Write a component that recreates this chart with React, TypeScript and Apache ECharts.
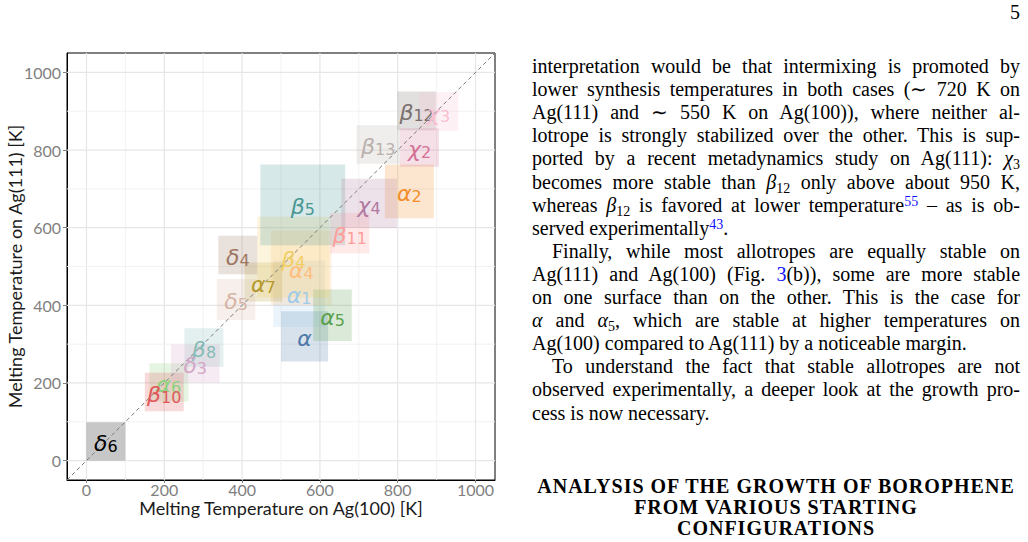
import React, { useEffect, useRef } from "react";
import * as echarts from "echarts";

// Allotrope labels (Greek letter + subscript)
const letters = ["α","α","α","α","α","α","α","β","β","β","β","β","β","β","χ","χ","χ","δ","δ","δ","δ"];
const subscripts = ["","1","2","4","5","6","7","4","5","8","10","11","12","13","2","3","4","3","4","5","6"];
// Melting temperature ranges [K]: Ag(100) on x, Ag(111) on y
const xLow  = [500,480,767,474,583,162,406,439,447,252,150,626,799,694,806,855,655,217,339,335,0];
const xHigh = [621,613,893,630,682,262,503,624,665,352,250,727,898,806,906,955,798,342,439,434,100];
const yLow  = [255,344,624,400,308,152,410,420,555,242,127,534,851,765,757,849,599,201,480,362,0];
const yHigh = [385,515,763,592,441,251,510,628,763,341,226,638,951,864,856,949,726,299,579,468,99];
const palette = ["#4E79A7","#A0CBE8","#F28E2B","#FFBE7D","#59A14F","#8CD17D","#B6992D","#F1CE63","#499894","#86BCB6","#E15759","#FF9D9A","#79706E","#BAB0AC","#D37295","#FABFD2","#B07AA1","#D4A6C8","#9D7660","#D7B5A6","#000000"];
const tickValues = [0, 200, 400, 600, 800, 1000];
const gridValues = [0, 100, 200, 300, 400, 500, 600, 700, 800, 900, 1000];
const axisMin = -50;
const axisMax = 1050;
const diagonal = [[axisMin, axisMin], [axisMax, axisMax]];

function rgba(hex: string, a: number) {
  const n = parseInt(hex.slice(1), 16);
  return `rgba(${(n >> 16) & 255},${(n >> 8) & 255},${n & 255},${a})`;
}

const tickFont = "Lato, 'Open Sans', sans-serif";

function buildOption(): any {
  const boxData = xLow.map((_, i) => [xLow[i], xHigh[i], yLow[i], yHigh[i]]);
  const labelData = xLow.map((_, i) => [(xLow[i] + xHigh[i]) / 2, (yLow[i] + yHigh[i]) / 2]);
  const axisCommon = (name: string, gap: number, margin: number, tickLen: number) => ({
    type: "value",
    min: axisMin,
    max: axisMax,
    name,
    nameLocation: "middle",
    nameGap: gap,
    nameMoveOverlap: false,
    nameTextStyle: { fontFamily: tickFont, fontSize: 18, color: "#1a1a1a" },
    axisLine: { show: true, onZero: false, lineStyle: { color: "#000", width: 1 } },
    axisTick: { show: true, customValues: tickValues, length: tickLen, lineStyle: { color: "#808080" } },
    axisLabel: {
      customValues: tickValues,
      color: "#7f7f7f",
      fontFamily: tickFont,
      fontSize: 16,
      margin,
      formatter: (v: number) => String(v),
    },
    splitLine: { show: false },
  });
  return {
    animation: false,
    backgroundColor: "#fff",
    grid: {
      left: 67,
      top: 53,
      width: 428,
      height: 427,
      containLabel: false,
      outerBoundsMode: "none",
      show: true,
      borderColor: "#000",
      borderWidth: 1,
      backgroundColor: "transparent",
    },
    xAxis: axisCommon("Melting Temperature on Ag(100) [K]", 19, 1, 3),
    yAxis: axisCommon("Melting Temperature on Ag(111) [K]", 43, 6, 4),
    series: [
      {
        type: "custom",
        z: 1,
        silent: true,
        data: gridValues.map((v) => [v, v]),
        encode: { x: 0, y: 1 },
        renderItem: (params: any, api: any) => {
          const v = api.value(0);
          const major = v % 200 === 0;
          const stroke = major ? "#e6e6e6" : "#f1f1f1";
          const lw = major ? 1.2 : 0.9;
          const a = api.coord([v, axisMin]);
          const b = api.coord([v, axisMax]);
          const c = api.coord([axisMin, v]);
          const d = api.coord([axisMax, v]);
          return {
            type: "group",
            children: [
              { type: "line", shape: { x1: a[0], y1: a[1], x2: b[0], y2: b[1] }, style: { stroke, lineWidth: lw } },
              { type: "line", shape: { x1: c[0], y1: c[1], x2: d[0], y2: d[1] }, style: { stroke, lineWidth: lw } },
            ],
          };
        },
      },
      {
        type: "custom",
        z: 2,
        data: boxData,
        encode: { x: [0, 1], y: [2, 3] },
        renderItem: (params: any, api: any) => {
          const i = params.dataIndex;
          const p0 = api.coord([api.value(0), api.value(3)]);
          const p1 = api.coord([api.value(1), api.value(2)]);
          return {
            type: "rect",
            shape: { x: p0[0], y: p0[1], width: p1[0] - p0[0], height: p1[1] - p0[1] },
            style: { fill: rgba(palette[i], 0.22) },
          };
        },
      },
      {
        type: "line",
        z: 3,
        data: diagonal,
        symbol: "none",
        lineStyle: { color: "#7a7a7a", width: 1, type: [4, 3] },
      },
      {
        type: "custom",
        z: 4,
        data: labelData,
        encode: { x: 0, y: 1 },
        renderItem: (params: any, api: any) => {
          const i = params.dataIndex;
          const p = api.coord([api.value(0), api.value(1)]);
          const color = palette[i];
          const txt = subscripts[i] ? `{g|${letters[i]}}{s|${subscripts[i]}}` : `{g|${letters[i]}}`;
          return {
            type: "text",
            x: p[0],
            y: p[1],
            style: {
              text: txt,
              align: "center",
              verticalAlign: "middle",
              rich: {
                g: { fontFamily: "DejaVu Sans", fontStyle: "italic", fontSize: 22, lineHeight: 26, fill: color, verticalAlign: "bottom" },
                s: { fontFamily: "DejaVu Sans", fontSize: 16, lineHeight: 16, fill: color, verticalAlign: "bottom" },
              },
            },
          };
        },
      },
    ],
  };
}

const LH = 23.1;
const blue = "#1010ff";

function Line(props: { i: number; last?: boolean; indent?: boolean; children: any }) {
  const { i, last, indent, children } = props;
  return (
    <div
      style={{
        position: "absolute",
        left: 0,
        width: 488,
        top: 55 + LH * i,
        height: LH,
        lineHeight: LH + "px",
        textAlign: last ? "left" : "justify",
        textAlignLast: last ? "left" : "justify",
        textIndent: indent ? 20 : 0,
        overflow: "visible",
      } as any}
    >
      {children}
    </div>
  );
}

const sub = { fontSize: "0.7em", verticalAlign: "-0.25em", lineHeight: 0 } as any;
const sup = { fontSize: "0.7em", verticalAlign: "0.45em", lineHeight: 0, color: blue } as any;

export default function App() {
  const ref = useRef<HTMLDivElement>(null);
  useEffect(() => {
    const chart = echarts.init(ref.current as HTMLDivElement, null, { renderer: "svg" });
    chart.setOption(buildOption());
    return () => chart.dispose();
  }, []);
  return (
    <div style={{ position: "absolute", left: 0, top: 0, width: 1028, height: 542, background: "#fff", overflow: "hidden" }}>
      <div ref={ref} style={{ position: "absolute", left: 0, top: 0, width: 512, height: 542 }} />
      <div style={{ position: "absolute", left: 1000, top: 1, width: 20, textAlign: "right", fontFamily: "'Liberation Serif', serif", fontSize: 20, color: "#000" }}>5</div>
      <div style={{ position: "absolute", left: 532, top: 0, width: 488, height: 542, fontFamily: "'Liberation Serif', serif", fontSize: 20, color: "#000" }}>
        <Line i={0}>interpretation would be that intermixing is promoted by</Line>
        <Line i={1}>lower synthesis temperatures in both cases (∼ 720 K on</Line>
        <Line i={2}>Ag(111) and ∼ 550 K on Ag(100)), where neither al-</Line>
        <Line i={3}>lotrope is strongly stabilized over the other. This is sup-</Line>
        <Line i={4}>ported by a recent metadynamics study on Ag(111): <i>χ</i><span style={sub}>3</span></Line>
        <Line i={5}>becomes more stable than <i>β</i><span style={sub}>12</span> only above about 950 K,</Line>
        <Line i={6}>whereas <i>β</i><span style={sub}>12</span> is favored at lower temperature<span style={sup}>55</span> – as is ob-</Line>
        <Line i={7} last>served experimentally<span style={sup}>43</span>.</Line>
        <Line i={8} indent>Finally, while most allotropes are equally stable on</Line>
        <Line i={9}>Ag(111) and Ag(100) (Fig. <span style={{ color: blue }}>3</span>(b)), some are more stable</Line>
        <Line i={10}>on one surface than on the other. This is the case for</Line>
        <Line i={11}><i>α</i> and <i>α</i><span style={sub}>5</span>, which are stable at higher temperatures on</Line>
        <Line i={12} last>Ag(100) compared to Ag(111) by a noticeable margin.</Line>
        <Line i={13} indent>To understand the fact that stable allotropes are not</Line>
        <Line i={14}>observed experimentally, a deeper look at the growth pro-</Line>
        <Line i={15} last>cess is now necessary.</Line>
        <div style={{ position: "absolute", left: 0, width: 488, top: 476, textAlign: "center", fontWeight: "bold", fontSize: 20, letterSpacing: 1, lineHeight: "21px" }}>
          <div>ANALYSIS OF THE GROWTH OF BOROPHENE</div>
          <div>FROM VARIOUS STARTING</div>
          <div>CONFIGURATIONS</div>
        </div>
      </div>
    </div>
  );
}
